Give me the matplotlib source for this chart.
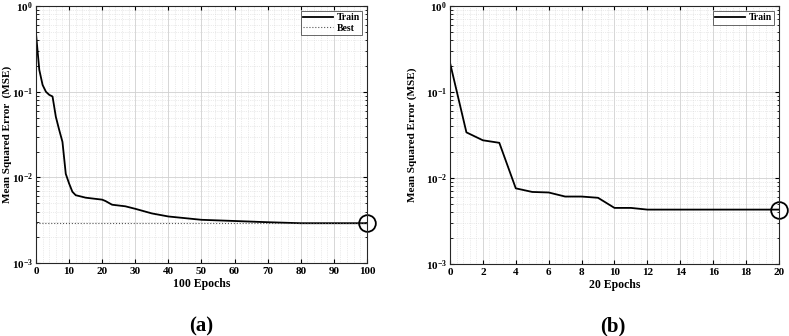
import numpy as np
import matplotlib
matplotlib.use("Agg")
import matplotlib.pyplot as plt
from matplotlib.ticker import MultipleLocator, LogLocator, NullFormatter

# (a) 100 epochs
epochs_a = [0, 1, 2, 3, 4, 5, 6, 7, 8, 9, 10, 11, 12, 15, 20, 21, 23, 27, 30, 35, 40, 50, 60, 70, 80, 90, 100]
mse_a = [0.48, 0.18, 0.12, 0.10, 0.092, 0.088, 0.051, 0.036, 0.026, 0.011, 0.0085, 0.0068, 0.0062,
         0.0058, 0.0055, 0.0053, 0.0048, 0.0046, 0.0043, 0.0038, 0.0035, 0.0032, 0.0031, 0.0030,
         0.00292, 0.00292, 0.00292]
best_a = 0.00292

# (b) 20 epochs
epochs_b = list(range(21))
mse_b = [0.22, 0.034, 0.0275, 0.0257, 0.0076, 0.0069, 0.0068, 0.0061, 0.0061, 0.0059, 0.0045,
         0.0045, 0.0043, 0.0043, 0.0043, 0.0043, 0.0043, 0.0043, 0.0043, 0.0043, 0.0043]

plt.rcParams['font.family'] = ['Liberation Serif', 'DejaVu Serif']
plt.rcParams['font.weight'] = 'bold'

fig = plt.figure(figsize=(7.89, 3.36), dpi=100)
ax1 = fig.add_axes([0.0456, 0.217, 0.4195, 0.765])
ax2 = fig.add_axes([0.5703, 0.214, 0.4170, 0.768])


def style_axes(ax, xmax, major, minor, xlabel, ylabel, ylab_x):
    ax.set_yscale('log')
    ax.set_xlim(0, xmax)
    ax.set_ylim(1e-3, 1e0)
    ax.xaxis.set_major_locator(MultipleLocator(major))
    ax.xaxis.set_minor_locator(MultipleLocator(minor))
    ax.yaxis.set_major_locator(LogLocator(base=10, numticks=10))
    ax.yaxis.set_minor_locator(LogLocator(base=10, subs=np.arange(2, 10), numticks=20))
    ax.yaxis.set_minor_formatter(NullFormatter())
    ax.grid(which='major', color='#d0d0d0', linewidth=0.6, linestyle='-')
    ax.grid(which='minor', color='#d8d8d8', linewidth=0.5, linestyle=':')
    ax.set_axisbelow(True)
    ax.tick_params(which='both', direction='in', top=True, right=True, labelsize=8)
    ax.tick_params(axis='x', pad=3)
    ax.tick_params(axis='y', pad=2)
    ax.tick_params(which='major', length=3)
    ax.tick_params(axis='x', which='minor', length=0)
    ax.tick_params(axis='y', which='minor', length=1.8)
    for s in ax.spines.values():
        s.set_color('#262626')
        s.set_linewidth(0.8)
    ax.set_xlabel(xlabel, fontsize=8.5, fontweight='bold', labelpad=1)
    ax.set_ylabel(ylabel, fontsize=8, fontweight='bold')
    ax.yaxis.set_label_coords(ylab_x, 0.5)
    for lab in ax.get_xticklabels() + ax.get_yticklabels():
        lab.set_fontweight('bold')


def add_legend(ax):
    leg = ax.legend(loc='upper right', fontsize=7, frameon=True, fancybox=False,
                    edgecolor='#404040', borderaxespad=0.5, handlelength=3.0,
                    borderpad=0.25, labelspacing=0.15, handletextpad=0.4)
    leg.get_frame().set_linewidth(0.7)
    for t in leg.get_texts():
        t.set_fontweight('bold')


style_axes(ax1, 100, 10, 2, '100 Epochs', 'Mean Squared Error  (MSE)', -0.071)
ax1.plot(epochs_a, mse_a, color='black', linewidth=1.3, label='Train')
ax1.axhline(best_a, color='#555555', linewidth=0.8, linestyle=':', label='Best')
ax1.plot(epochs_a[-1], mse_a[-1], 'o', markersize=12, markerfacecolor='none',
         markeredgecolor='black', markeredgewidth=1.3, clip_on=False)
add_legend(ax1)

style_axes(ax2, 20, 2, 0.4, '20 Epochs', 'Mean Squared Error (MSE)', -0.10)
ax2.plot(epochs_b, mse_b, color='black', linewidth=1.3, label='Train')
ax2.plot(epochs_b[-1], mse_b[-1], 'o', markersize=12, markerfacecolor='none',
         markeredgecolor='black', markeredgewidth=1.3, clip_on=False)
add_legend(ax2)

fig.text(0.255, 0.012, '(a)', fontsize=15, fontweight='bold', ha='center')
fig.text(0.777, 0.012, '(b)', fontsize=15, fontweight='bold', ha='center')

fig.savefig('out.png', dpi=100)
